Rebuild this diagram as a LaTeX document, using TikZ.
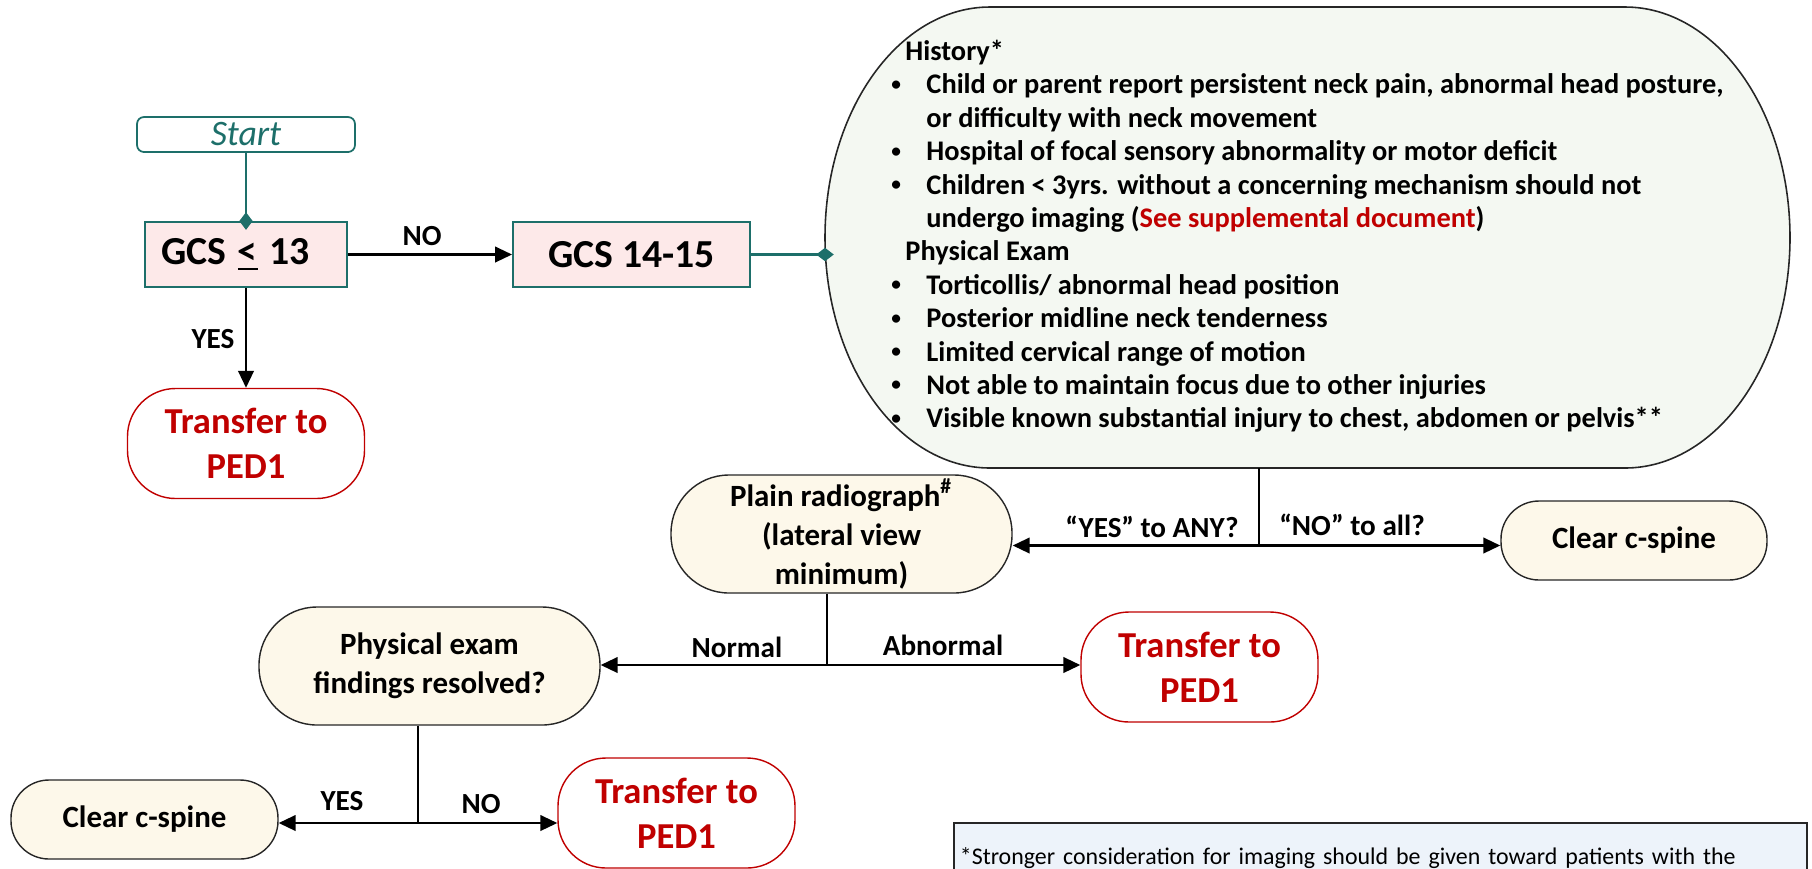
\documentclass[tikz,border=0pt]{standalone}
\usepackage{fontspec}
\setmainfont{Carlito}
\usepackage{xcolor}
\definecolor{deepteal}{HTML}{1D6F6A}
\definecolor{palepink}{HTML}{FDE9E9}
\definecolor{bloodred}{HTML}{C00000}
\definecolor{cream}{HTML}{FDF8EA}
\definecolor{palesage}{HTML}{F4F8F2}
\definecolor{paleblue}{HTML}{EDF3FA}
\definecolor{ink}{HTML}{262626}
\usepackage{tikz}
\usetikzlibrary{arrows.meta,positioning,calc,backgrounds}
\tikzset{
  >={Triangle[length=4.8pt,width=4.4pt]},
  startbox/.style={draw=deepteal,rounded corners=2pt,line width=0.5pt,
                   minimum width=2.18cm,minimum height=0.35cm,inner sep=0pt,
                   font=\fontsize{10.2}{12}\selectfont\itshape,text=deepteal},
  gcsbox/.style  ={draw=deepteal,fill=palepink,line width=0.55pt,
                   minimum height=0.65cm,inner sep=0pt,
                   font=\fontsize{11.3}{13}\selectfont\bfseries},
  xferbox/.style ={draw=bloodred,fill=white,rounded corners=0.48cm,line width=0.4pt,
                   minimum width=2.37cm,minimum height=1.1cm,inner sep=0pt,align=center,
                   font=\fontsize{10.4}{12.8}\selectfont\bfseries,text=bloodred},
  stepbox/.style ={draw=ink,fill=cream,rounded corners=0.58cm,line width=0.4pt,
                   minimum width=3.41cm,minimum height=1.18cm,inner sep=0pt,align=center,
                   font=\fontsize{8.8}{11.1}\selectfont\bfseries},
  clearbox/.style={stepbox,rounded corners=0.38cm,minimum width=2.66cm,minimum height=0.79cm},
  histbox/.style ={minimum width=9.65cm,minimum height=4.61cm,inner sep=0pt,outer sep=0pt,
                   font=\fontsize{8.08}{9.5}\selectfont\bfseries},
  histline/.style={draw=ink,fill=palesage,line width=0.45pt},
  notebox/.style ={draw=ink,fill=paleblue,line width=0.5pt,align=left,
                   text width=8.41cm,inner xsep=0.06cm,inner ysep=0.17cm,minimum height=1cm,
                   font=\fontsize{6.8}{8.6}\selectfont},
  lbl/.style     ={font=\fontsize{8.3}{10}\selectfont\bfseries,inner sep=1pt},
  flow/.style    ={draw=black,line width=0.65pt},
  splitline/.style={draw=black,line width=0.35pt},
  link/.style    ={-{Diamond[length=5pt,width=3.8pt]},draw=deepteal,line width=0.7pt,
                   shorten >=-2.5pt},
}
\newcommand{\hbul}{\raisebox{0.25ex}{\fontsize{5.5}{6}\selectfont\textbullet}}

\begin{document}
\begin{tikzpicture}[x=1cm,y=1cm]
\useasboundingbox (0,0) rectangle (18.12,-8.68);
% top left: GCS triage
\node[startbox] (start) at (2.46,-1.345) {Start};
\node[gcsbox,minimum width=2.02cm] (gcs13) at (2.46,-2.545)
 {GCS\hspace{0.8pt} \underline{<}\hspace{0.8pt} 13\hspace*{6pt}};
\node[gcsbox,minimum width=2.37cm] (gcs1415) at (6.315,-2.545) {GCS 14-15};
\node[xferbox] (xfer1) at (2.46,-4.435) {Transfer to\\PED1};
\draw[link] (start.south) -- (gcs13.north);
\draw[flow,->] (gcs13) -- (gcs1415);
\draw[flow,->] (gcs13) -- (xfer1);
\node[lbl] at (4.22,-2.36) {NO};
\node[lbl] at (2.13,-3.39) {YES};
% criteria box
\node[histbox] (hist) at (13.075,-2.375) {%
  \begin{tabular}{@{}p{0.35cm}@{}l@{}}
  \multicolumn{2}{@{\hspace{0.14cm}}l@{}}{History*}\\
  \hbul & Child or parent report persistent neck pain, abnormal head posture,\\
        & or difficulty with neck movement\\
  \hbul & Hospital of focal sensory abnormality or motor deficit\\
  \hbul & Children < 3yrs. without a concerning mechanism should not\\
        & undergo imaging (\textcolor{bloodred}{See supplemental document})\\
  \multicolumn{2}{@{\hspace{0.14cm}}l@{}}{Physical Exam}\\
  \hbul & Torticollis/ abnormal head position\\
  \hbul & Posterior midline neck tenderness\\
  \hbul & Limited cervical range of motion\\
  \hbul & Not able to maintain focus due to other injuries\\
  \hbul & Visible known substantial injury to chest, abdomen or pelvis**
  \end{tabular}};
\begin{scope}[on background layer]
\draw[histline] ([xshift=1.65cm]hist.north west) -- ([xshift=-1.65cm]hist.north east)
  arc[start angle=90,end angle=-90,x radius=1.65cm,y radius=2.305cm]
  -- ([xshift=1.65cm]hist.south west)
  arc[start angle=270,end angle=90,x radius=1.65cm,y radius=2.305cm] -- cycle;
\end{scope}
\draw[link] (gcs1415.east) -- (gcs1415.east -| hist.west);
% imaging decision
\node[stepbox] (plain) at (8.415,-5.34) {Plain radiograph\textsuperscript{\#}\\(lateral view\\minimum)};
\node[clearbox] (clear1) at (16.34,-5.405) {Clear c-spine};
\coordinate (j1) at (12.59,-5.455);
\draw[splitline] (j1 |- hist.south) -- (j1);
\draw[flow,<->] (j1 -| plain.east) -- (j1 -| clear1.west);
\node[lbl] at (11.52,-5.27) {``YES'' to ANY?};
\node[lbl] at (13.52,-5.25) {``NO'' to all?};
% radiograph result
\node[stepbox] (phys) at (4.295,-6.66) {Physical exam\\findings resolved?};
\node[xferbox] (xfer2) at (11.995,-6.67) {Transfer to\\PED1};
\coordinate (j2) at (8.27,-6.65);
\draw[splitline] (j2 |- plain.south) -- (j2);
\draw[flow,<->] (j2 -| phys.east) -- (j2 -| xfer2.west);
\node[lbl] at (7.37,-6.47) {Normal};
\node[lbl] at (9.43,-6.45) {Abnormal};
% exam resolved?
\node[clearbox,minimum width=2.67cm] (clear2) at (1.445,-8.195) {Clear c-spine};
\node[xferbox] (xfer3) at (6.765,-8.13) {Transfer to\\PED1};
\coordinate (j3) at (4.18,-8.23);
\draw[splitline] (j3 |- phys.south) -- (j3);
\draw[flow,<->] (j3 -| clear2.east) -- (j3 -| xfer3.west);
\node[lbl] at (3.42,-8.01) {YES};
\node[lbl] at (4.81,-8.04) {NO};
% footnote, runs off the page
\begin{scope}
\clip (0,0) rectangle (18.12,-8.68);
\node[notebox,anchor=north west] (note) at (9.53,-8.22)
 {*Stronger consideration for imaging should be given toward patients with the\\
  following mechanisms of injury: diving, axial load, clothesline and high-risk motor};
\end{scope}
\end{tikzpicture}
\end{document}
